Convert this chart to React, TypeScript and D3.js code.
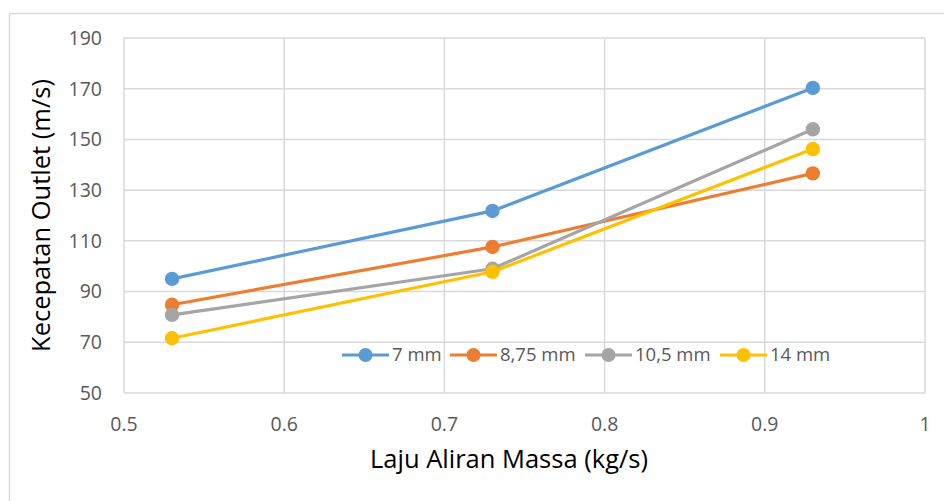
import React from "react";
import * as d3 from "d3";

const xValues = [0.53, 0.73, 0.93];
const seriesNames = ["7 mm", "8,75 mm", "10,5 mm", "14 mm"];
const series7 = [95.0, 121.8, 170.3];
const series875 = [84.8, 107.6, 136.6];
const series105 = [80.8, 99.0, 154.0];
const series14 = [71.6, 97.8, 146.2];
const seriesColors = ["#5B9BD5", "#ED7D31", "#A5A5A5", "#FFC000"];
const xTicks = [0.5, 0.6, 0.7, 0.8, 0.9, 1];
const yTicks = [50, 70, 90, 110, 130, 150, 170, 190];

const W = 944;
const H = 501;
const plot = { left: 124, right: 925, top: 38, bottom: 393 };
const legendStarts = [342, 450, 585, 720];
const FONT = "'Open Sans', 'Liberation Sans', sans-serif";

export default function App() {
  const x = d3.scaleLinear().domain([0.5, 1]).range([plot.left, plot.right]);
  const y = d3.scaleLinear().domain([50, 190]).range([plot.bottom, plot.top]);
  const allSeries = [series7, series875, series105, series14];
  const line = d3
    .line<number>()
    .x((_, i) => x(xValues[i]))
    .y((d) => y(d));

  return (
    <svg
      width={W}
      height={H}
      style={{ position: "absolute", left: 0, top: 0, display: "block", background: "#fff" }}
      fontFamily={FONT}
    >
      {/* outer chart border (cropped) */}
      <line x1={9.5} x2={W} y1={13.5} y2={13.5} stroke="#D9D9D9" strokeWidth={1.5} />
      <line x1={9.5} x2={9.5} y1={13.5} y2={H} stroke="#D9D9D9" strokeWidth={1.5} />

      {/* gridlines */}
      {yTicks.map((t) => (
        <line key={"gy" + t} x1={plot.left} x2={plot.right} y1={y(t)} y2={y(t)} stroke="#D9D9D9" strokeWidth={1.5} />
      ))}
      {xTicks.map((t) => (
        <line key={"gx" + t} x1={x(t)} x2={x(t)} y1={plot.top} y2={plot.bottom} stroke="#D9D9D9" strokeWidth={1.5} />
      ))}

      {/* tick labels */}
      {yTicks.map((t) => (
        <text key={"ty" + t} x={plot.left - 22} y={y(t)} dy="0.35em" textAnchor="end" fontSize={19.5} fill="#595959">
          {t}
        </text>
      ))}
      {xTicks.map((t) => (
        <text key={"tx" + t} x={x(t)} y={plot.bottom + 38} textAnchor="middle" fontSize={19.5} fill="#595959">
          {String(t)}
        </text>
      ))}

      {/* axis titles */}
      <text x={509} y={468} textAnchor="middle" fontSize={25.5} fill="#000">
        Laju Aliran Massa (kg/s)
      </text>
      <text
        transform={`translate(50, ${(plot.top + plot.bottom) / 2}) rotate(-90)`}
        textAnchor="middle"
        fontSize={25.5}
        fill="#000"
      >
        Kecepatan Outlet (m/s)
      </text>

      {/* series */}
      {allSeries.map((s, si) => (
        <g key={"s" + si}>
          <path d={line(s) || ""} fill="none" stroke={seriesColors[si]} strokeWidth={3.2} strokeLinejoin="round" />
          {s.map((v, i) => (
            <circle key={i} cx={x(xValues[i])} cy={y(v)} r={7.2} fill={seriesColors[si]} />
          ))}
        </g>
      ))}

      {/* legend */}
      {seriesNames.map((name, i) => {
        const sx = legendStarts[i];
        const ly = 355;
        return (
          <g key={"l" + i}>
            <line x1={sx} x2={sx + 47} y1={ly} y2={ly} stroke={seriesColors[i]} strokeWidth={3.2} />
            <circle cx={sx + 23.5} cy={ly} r={7} fill={seriesColors[i]} />
            <text x={sx + 50} y={ly} dy="0.35em" fontSize={18.5} fill="#595959">
              {name}
            </text>
          </g>
        );
      })}
    </svg>
  );
}
